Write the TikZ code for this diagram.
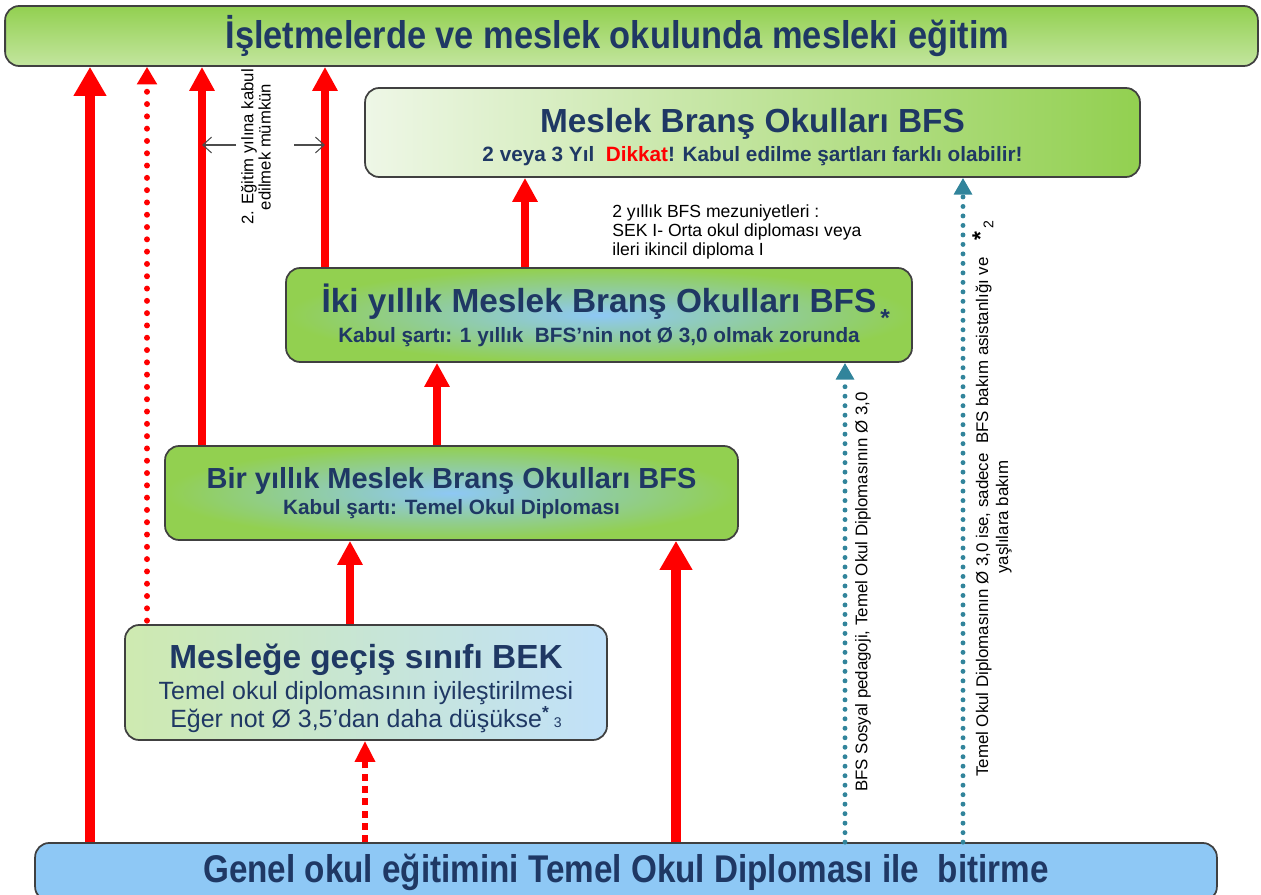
\documentclass[tikz,border=0pt]{standalone}
\usepackage{fontspec}
\usepackage{graphicx}
\setmainfont{Liberation Sans}
\usetikzlibrary{arrows.meta}
\definecolor{lacivert}{HTML}{1F3864}
\definecolor{yesil}{HTML}{92D050}
\definecolor{maviacik}{HTML}{8EC8F5}
\definecolor{petrol}{HTML}{31849B}
\definecolor{kirmizi}{HTML}{FF0000}
\begin{document}
\begin{tikzpicture}[x=0.02cm, y=-0.02cm,
	box/.style={shape=rectangle, rounded corners=8pt, draw=black!75, line width=1pt, text=lacivert, align=center, inner sep=0pt},
	bigarrow/.style={draw=kirmizi, line width=6pt, -{Triangle[length=16.5pt, width=17.6pt]}},
	redarrow/.style={draw=kirmizi, line width=4.5pt, -{Triangle[length=13.7pt, width=13.7pt]}},
	reddots/.style={draw=kirmizi, line width=3.4pt, line cap=round, dash pattern=on 0pt off 7pt, -{Triangle[length=10pt, width=11pt]}},
	reddash/.style={draw=kirmizi, line width=3.4pt, dash pattern=on 4pt off 3pt, -{Triangle[length=12pt, width=11pt]}},
	bluedots/.style={draw=petrol, line width=2.8pt, line cap=round, dash pattern=on 0pt off 5.4pt, -{Triangle[length=9.5pt, width=10pt]}},
	thinarrow/.style={draw=black!70, line width=0.6pt, -{Straight Barb[length=5pt, width=9pt]}},
	small/.style={font=\fontsize{9.6pt}{11.4pt}\selectfont}]
	\useasboundingbox (0,0) rectangle (1261,895);
	\node (isletme) at (631.5,36) [box, minimum width=25.06cm, minimum height=1.2cm, top color=yesil, bottom color=yesil!55!white] {\scalebox{0.89}[1]{\fontsize{22pt}{24pt}\selectfont\bfseries İşletmelerde ve meslek okulunda mesleki eğitim}\hspace*{0.56cm}};
	\node (bfs) at (752.5,132.5) [box, minimum width=15.5cm, minimum height=1.78cm, left color=white!90!blue!30!yesil!20, right color=yesil, font=\fontsize{11.8pt}{16pt}\selectfont] {{\fontsize{19pt}{19pt}\selectfont\bfseries\rule{0pt}{19pt}Meslek Branş Okulları BFS}\\ \bfseries 2 veya 3 Yıl\ \ \textcolor{kirmizi}{Dikkat}! Kabul edilme şartları farklı olabilir!};
	\node (iki) at (599,315) [box, minimum width=12.52cm, minimum height=1.88cm, inner color=maviacik, outer color=yesil, font=\fontsize{11.8pt}{17pt}\selectfont] {{\fontsize{19pt}{19pt}\selectfont\bfseries İki yıllık Meslek Branş Okulları BFS\rlap{\smash{\raisebox{-0.8ex}{\fontsize{14pt}{14pt}\selectfont\,*}}}}\\ \bfseries Kabul şartı: 1 yıllık\ \ BFS’nin not Ø 3,0 olmak zorunda};
	\node (bir) at (451.5,493) [box, minimum width=11.46cm, minimum height=1.88cm, inner color=maviacik, outer color=yesil, font=\fontsize{11.8pt}{14.5pt}\selectfont] {{\fontsize{16.5pt}{16.5pt}\selectfont\bfseries Bir yıllık Meslek Branş Okulları BFS}\\ \bfseries Kabul şartı: Temel Okul Diploması};
	\node (bek) at (366,682.5) [box, minimum width=9.64cm, minimum height=2.3cm, left color=yesil!45!white, right color=maviacik!55!white, font=\fontsize{14.2pt}{16pt}\selectfont] {{\fontsize{19pt}{19pt}\selectfont\bfseries\rule{0pt}{21pt}Mesleğe geçiş sınıfı BEK}\\[1.5pt] Temel okul diplomasının iyileştirilmesi\\ Eğer not Ø 3,5’dan daha düşükse\textsuperscript{\bfseries *}\,{\fontsize{8pt}{8pt}\selectfont 3}};
	\node (genel) at (626,872) [box, minimum width=23.64cm, minimum height=1.16cm, fill=maviacik] {\scalebox{0.86}[1]{\fontsize{22pt}{24pt}\selectfont\bfseries Genel okul eğitimini Temel Okul Diploması ile\ \ bitirme}};
	\node (mezun) at (612,232) [anchor=west, align=left, inner sep=0pt, font=\fontsize{10pt}{11pt}\selectfont] {2 yıllık BFS mezuniyetleri :\\SEK I- Orta okul diploması veya\\ileri ikincil diploma I};
	\node (kabul) at (256,147) [rotate=90, align=center, font=\fontsize{9.5pt}{9.8pt}\selectfont] {2. Eğitim yılına kabul\\edilmek mümkün};
	\node (sospad) at (863,592) [rotate=90, small] {BFS Sosyal pedagoji, Temel Okul Diplomasının Ø 3,0};
	\node (bakim) at (992,517) [rotate=90, align=center, small] {Temel Okul Diplomasının Ø 3,0 ise, sadece\ \ BFS bakım asistanlığı ve\rlap{\quad{\fontsize{13pt}{13pt}\selectfont\bfseries *}\,\raisebox{-0.6ex}{\fontsize{8pt}{8pt}\selectfont 2}}\\yaşlılara bakım};
	\coordinate (a1) at (90,0);
	\coordinate (a2) at (147,0);
	\coordinate (a3) at (202,0);
	\coordinate (a4) at (325,0);
	\coordinate (a5) at (525,0);
	\coordinate (a6) at (437,0);
	\coordinate (a7) at (350,0);
	\coordinate (a8) at (676,0);
	\coordinate (a9) at (365,0);
	\coordinate (t1) at (845,0);
	\coordinate (t2) at (963,0);
	\draw [bigarrow] (genel.north -| a1) -- (isletme.south -| a1);
	\draw [reddots] ([yshift=2pt]bek.north -| a2) -- (isletme.south -| a2);
	\draw [redarrow] (bir.north -| a3) -- (isletme.south -| a3);
	\draw [redarrow] (iki.north -| a4) -- (isletme.south -| a4);
	\draw [redarrow] (iki.north -| a5) -- (bfs.south -| a5);
	\draw [redarrow] (bir.north -| a6) -- (iki.south -| a6);
	\draw [redarrow] (bek.north -| a7) -- (bir.south -| a7);
	\draw [bigarrow] (genel.north -| a8) -- (bir.south -| a8);
	\draw [reddash] (genel.north -| a9) -- (bek.south -| a9);
	\draw [bluedots] (genel.north -| t1) -- (iki.south -| t1);
	\draw [bluedots] (genel.north -| t2) -- (bfs.south -| t2);
	\coordinate (k1) at (236,145);
	\coordinate (k2) at (294,145);
	\draw [thinarrow] (k1) -- (k1 -| a3);
	\draw [thinarrow] (k2) -- (k2 -| a4);
\end{tikzpicture}
\end{document}
